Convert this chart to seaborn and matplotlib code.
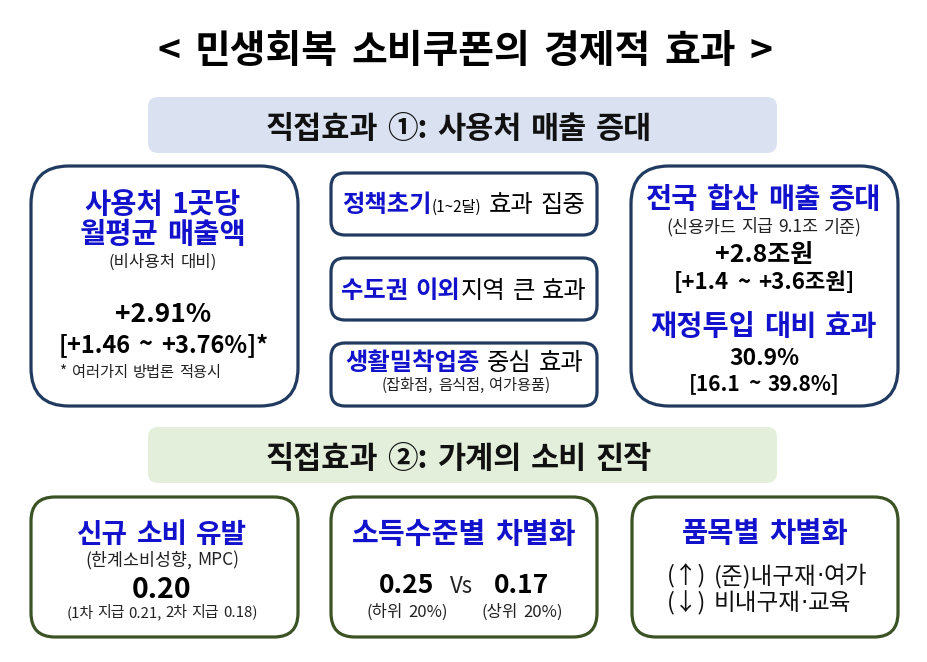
import matplotlib
matplotlib.use("Agg")
import matplotlib.pyplot as plt
import seaborn as sns
from matplotlib.patches import FancyBboxPatch

sns.set_theme(style="white")
plt.rcParams['font.family'] = ['Noto Sans CJK KR', 'DejaVu Sans']

# ---- data ----
title = "< 민생회복 소비쿠폰의 경제적 효과 >"
section_titles = ["직접효과 ①: 사용처 매출 증대", "직접효과 ②: 가계의 소비 진작"]

store_sales = [2.91, 1.46, 3.76]        # 사용처 1곳당 월평균 매출액 (%), 점추정, 하한, 상한
total_sales = [2.8, 1.4, 3.6]           # 전국 합산 매출 증대 (조원)
card_budget = 9.1                       # 신용카드 지급 (조원)
fiscal_ratio = [30.9, 16.1, 39.8]       # 재정투입 대비 효과 (%)
mpc = [0.20, 0.21, 0.18]                # 전체, 1차 지급, 2차 지급
mpc_income = [0.25, 0.17]               # 하위 20%, 상위 20%
income_groups = ["하위 20%", "상위 20%"]
middle_items = [
    [("정책초기", "blue", 17.5), ("(1~2달)", "black", 11), (" 효과 집중", "black", 17.5)],
    [("수도권 이외", "blue", 17.5), ("지역 큰 효과", "black", 17.5)],
    [("생활밀착업종", "blue", 17.5), (" 중심 효과", "black", 17.5)],
]
middle_note = "(잡화점, 음식점, 여가용품)"
item_lines = ["(↑) (준)내구재·여가", "(↓) 비내구재·교육"]

BLUE = "#1212cc"
NAVY = "#203a60"
GREEN = "#3b5324"
GREY = "#222222"

fig = plt.figure(figsize=(9.27, 6.62), dpi=100)
ax = fig.add_axes([0, 0, 1, 1])
ax.set_xlim(0, 927)
ax.set_ylim(662, 0)
ax.axis("off")
renderer = fig.canvas.get_renderer()


def box(x0, y0, x1, y1, ec, fc="white", r=30, lw=2.3):
    p = FancyBboxPatch((x0, y0), x1 - x0, y1 - y0,
                       boxstyle=f"round,pad=0,rounding_size={r}",
                       ec=ec, fc=fc, lw=lw)
    ax.add_patch(p)


def line(x, y, parts, ha="center", gapf=0.3):
    # parts: (text, color, size, weight[, family]); spaces become gaps of gapf*em
    objs = []
    for part in parts:
        s, c, fs, w = part[:4]
        fam = part[4] if len(part) > 4 else None
        col = BLUE if c == "blue" else c
        gap = gapf * fs * 100 / 72
        for i, wd in enumerate(s.split(" ")):
            if wd == "":
                continue
            g = gap if i > 0 else 0
            kw = dict(color=col, fontsize=fs, fontweight=w, va="baseline", ha="left")
            if fam:
                kw["family"] = fam
            t = ax.text(0, y, wd, **kw)
            bb = t.get_window_extent(renderer=renderer)
            objs.append([t, g, bb.width])
    total = sum(g + w for _, g, w in objs)
    x0 = x - total / 2 if ha == "center" else x
    for t, g, w in objs:
        t.set_x(x0 + g)
        x0 += g + w
    return x - total / 2


def dotted(s, color, fs, w):
    # narrow middle dot like the reference
    out = []
    for i, pc in enumerate(s.split("·")):
        if i > 0:
            out.append(("·", color, fs, w, ["DejaVu Sans"]))
        out.append((pc, color, fs, w))
    return out


# title
line(465, 63, [(title, "black", 28, "bold")], gapf=0.35)

# section bands
box(148, 97, 777, 153, ec="none", fc="#dae2f1", r=10, lw=0)
line(459, 138, [(section_titles[0], "#111111", 22, "bold")])
box(148, 427, 777, 483, ec="none", fc="#e3efda", r=10, lw=0)
line(459, 468, [(section_titles[1], "#111111", 22, "bold")])

# ---- upper row ----
box(31, 166, 298, 406, NAVY, r=38)
cx = 163
line(cx, 213, [("사용처 1곳당", "blue", 20.5, "bold")])
line(cx, 243, [("월평균 매출액", "blue", 20.5, "bold")])
line(cx, 267, [("(비사용처 대비)", GREY, 12, "normal")])
line(cx, 322, [(f"+{store_sales[0]:.2f}%", "black", 19, "bold")])
line(cx, 352, [(f"[+{store_sales[1]:.2f} ~ +{store_sales[2]:.2f}%]*", "black", 17, "bold")], gapf=0.35)
line(60, 377, [("* 여러가지 방법론 적용시", GREY, 11, "normal")], ha="left")

mid_y = [(173, 235), (258, 320), (343, 406)]
mid_base = [212, 298, 370]
for (y0, y1), base, parts in zip(mid_y, mid_base, middle_items):
    box(331, y0, 597, y1, NAVY, r=14)
    line(464, base, [(s, c, fs, "bold" if c == "blue" else "normal") for s, c, fs in parts])
line(466, 390, [(middle_note, GREY, 11, "normal")])

box(631, 166, 898, 406, NAVY, r=38)
cx = 764
line(cx, 208, [("전국 합산 매출 증대", "blue", 20.5, "bold")])
line(cx, 232, [(f"(신용카드 지급 {card_budget}조 기준)", GREY, 12.5, "normal")])
line(cx, 262, [(f"+{total_sales[0]}조원", "black", 18, "bold")])
line(cx, 289, [(f"[+{total_sales[1]} ~ +{total_sales[2]}조원]", "black", 16, "bold")], gapf=0.35)
line(cx, 335, [("재정투입 대비 효과", "blue", 20.5, "bold")])
line(cx, 365, [(f"{fiscal_ratio[0]}%", "black", 16.5, "bold")])
line(cx, 390, [(f"[{fiscal_ratio[1]} ~ {fiscal_ratio[2]}%]", "black", 15, "bold")], gapf=0.35)

# ---- lower row ----
for x0, x1 in [(31, 298), (331, 597), (632, 898)]:
    box(x0, 497, x1, 637, GREEN, r=24)

cx = 162
line(cx, 543, [("신규 소비 유발", "blue", 20, "bold")])
line(cx, 565, [("(한계소비성향, MPC)", GREY, 12.5, "normal")])
line(cx, 598, [(f"{mpc[0]:.2f}", "black", 20.5, "bold")])
line(cx, 617, [(f"(1차 지급 {mpc[1]:.2f}, 2차 지급 {mpc[2]:.2f})", GREY, 10.8, "normal")], gapf=0.25)

cx = 464
line(cx, 543, [("소득수준별 차별화", "blue", 21, "bold")])
for xc, v, g in zip([407, 522], mpc_income, income_groups):
    line(xc, 593, [(f"{v:.2f}", "black", 19, "bold")])
    line(xc, 617, [(f"({g})", GREY, 12, "normal")])
line(462, 593, [("Vs", GREY, 16, "normal")])

cx = 765
line(cx, 542, [("품목별 차별화", "blue", 20.5, "bold")])
xs = line(cx + 2, 583, dotted(item_lines[0], "#111111", 17, "normal"))
line(xs, 610, dotted(item_lines[1], "#111111", 17, "normal"), ha="left")

fig.savefig("out.png", dpi=100)
